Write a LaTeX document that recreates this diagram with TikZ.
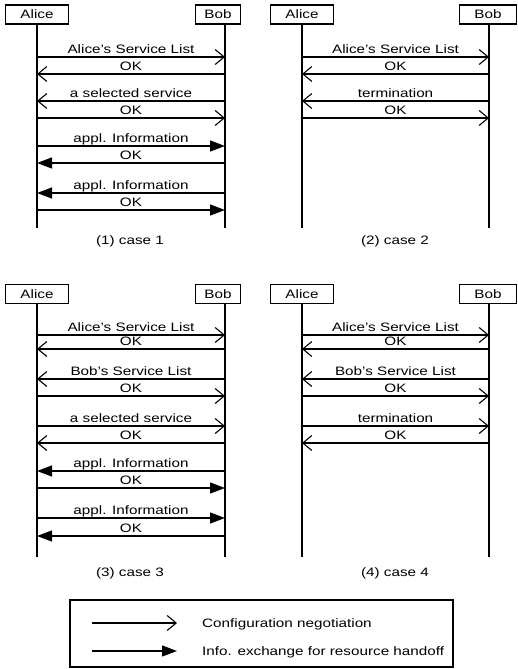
\documentclass[tikz,border=0pt]{standalone}
\usepackage{fontspec}
\setmainfont{Liberation Sans}[FakeStretch=1.25]
\usetikzlibrary{arrows.meta}
\newcommand\msg[5]{\draw[#4] (#1 |- 0,#3) -- node[lbl]{#5} (#2 |- 0,#3);}
\begin{document}
\begin{tikzpicture}[x=1pt,y=-1pt,
  font=\fontsize{12.2}{14}\selectfont,
  actor/.style={draw, line width=1.3pt, minimum height=19pt, inner sep=0pt},
  life/.style={line width=1.1pt},
  cfg/.style={line width=1.1pt, -{Straight Barb[length=9pt,width=15pt]}},
  info/.style={line width=1.1pt, -{Triangle[length=15pt,width=11pt]}},
  lbl/.style={anchor=base, yshift=3.5pt, inner sep=0pt},
  captext/.style={inner sep=0pt}]
\useasboundingbox (0,0) rectangle (517,669);

% ---------- panel 1 ----------
\node[actor, minimum width=63pt] (A1) at (37,14.5) {Alice};
\node[actor, minimum width=45pt] (B1) at (218,14.5) {Bob};
\coordinate (la1) at (A1.south);
\coordinate (lb1) at ([xshift=7pt]B1.south);
\coordinate (ea1) at (la1 |- 0,228);
\coordinate (eb1) at (lb1 |- 0,228);
\draw[life] (la1) -- (ea1);
\draw[life] (lb1) -- (eb1);
\msg{la1}{lb1}{57}{cfg}{Alice's Service List}
\msg{lb1}{la1}{74}{cfg}{OK}
\msg{lb1}{la1}{101}{cfg}{a selected service}
\msg{la1}{lb1}{118}{cfg}{OK}
\msg{la1}{lb1}{146}{info}{appl. Information}
\msg{lb1}{la1}{163}{info}{OK}
\msg{lb1}{la1}{193}{info}{appl. Information}
\msg{la1}{lb1}{210}{info}{OK}
\node[captext] (c1) at (130,241) {(1) case 1};

% ---------- panel 2 ----------
\node[actor, minimum width=63pt] (A2) at (302,14.5) {Alice};
\node[actor, minimum width=57pt] (B2) at (488,14.5) {Bob};
\coordinate (la2) at (A2.south);
\coordinate (lb2) at ([xshift=1pt]B2.south);
\coordinate (ea2) at (la2 |- 0,228);
\coordinate (eb2) at (lb2 |- 0,228);
\draw[life] (la2) -- (ea2);
\draw[life] (lb2) -- (eb2);
\msg{la2}{lb2}{57}{cfg}{Alice's Service List}
\msg{lb2}{la2}{74}{cfg}{OK}
\msg{lb2}{la2}{101}{cfg}{termination}
\msg{la2}{lb2}{118}{cfg}{OK}
\node[captext] (c2) at (395,241) {(2) case 2};

% ---------- panel 3 ----------
\node[actor, minimum width=63pt] (A3) at (37,294) {Alice};
\node[actor, minimum width=45pt] (B3) at (218,294) {Bob};
\coordinate (la3) at (A3.south);
\coordinate (lb3) at ([xshift=7pt]B3.south);
\coordinate (ea3) at (la3 |- 0,557);
\coordinate (eb3) at (lb3 |- 0,557);
\draw[life] (la3) -- (ea3);
\draw[life] (lb3) -- (eb3);
\msg{la3}{lb3}{335}{cfg}{Alice's Service List}
\msg{lb3}{la3}{349}{cfg}{OK}
\msg{lb3}{la3}{379}{cfg}{Bob's Service List}
\msg{la3}{lb3}{396}{cfg}{OK}
\msg{la3}{lb3}{426}{cfg}{a selected service}
\msg{lb3}{la3}{443}{cfg}{OK}
\msg{lb3}{la3}{471}{info}{appl. Information}
\msg{la3}{lb3}{488}{info}{OK}
\msg{la3}{lb3}{518}{info}{appl. Information}
\msg{lb3}{la3}{536}{info}{OK}
\node[captext] (c3) at (130,573) {(3) case 3};

% ---------- panel 4 ----------
\node[actor, minimum width=63pt] (A4) at (302,294) {Alice};
\node[actor, minimum width=57pt] (B4) at (488,294) {Bob};
\coordinate (la4) at (A4.south);
\coordinate (lb4) at ([xshift=1pt]B4.south);
\coordinate (ea4) at (la4 |- 0,557);
\coordinate (eb4) at (lb4 |- 0,557);
\draw[life] (la4) -- (ea4);
\draw[life] (lb4) -- (eb4);
\msg{la4}{lb4}{335}{cfg}{Alice's Service List}
\msg{lb4}{la4}{349}{cfg}{OK}
\msg{lb4}{la4}{379}{cfg}{Bob's Service List}
\msg{la4}{lb4}{396}{cfg}{OK}
\msg{la4}{lb4}{426}{cfg}{termination}
\msg{lb4}{la4}{443}{cfg}{OK}
\node[captext] (c4) at (395,573) {(4) case 4};

% ---------- legend ----------
\node[draw, line width=1.3pt, minimum width=383pt, minimum height=67pt, inner sep=0pt] (leg) at (261.5,633.5) {};
\coordinate (g1s) at (92,623);
\coordinate (g1e) at (177,623);
\coordinate (g2s) at (92,651);
\coordinate (g2e) at (177,651);
\draw[cfg] (g1s) -- (g1e);
\draw[info] (g2s) -- (g2e);
\node[anchor=base west, inner sep=0pt] (t1) at (202,627) {Configuration negotiation};
\node[anchor=base west, inner sep=0pt] (t2) at (202,655) {Info. exchange for resource handoff};
\end{tikzpicture}
\end{document}
